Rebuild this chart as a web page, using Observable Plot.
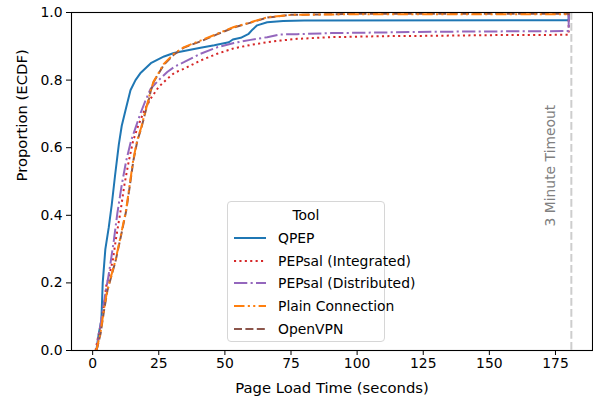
<!DOCTYPE html>
<html><head><meta charset="utf-8">
<script src="https://cdn.jsdelivr.net/npm/d3@7"></script>
<script src="https://cdn.jsdelivr.net/npm/@observablehq/plot@0.6"></script>
<style>
body{margin:0;background:#fff;font-family:"DejaVu Sans",sans-serif;}
#wrap{position:relative;width:593px;height:401px;}
#legend{position:absolute;left:227px;top:201px;width:158px;height:141px;box-sizing:border-box;border:1px solid #d6d6d6;border-radius:4px;background:rgba(255,255,255,0.8);font-size:13.9px;color:#000;}
#legend .title{position:absolute;left:0;width:100%;text-align:center;top:5px;line-height:16px;}
#legend .row{position:absolute;left:5px;height:16px;line-height:16px;white-space:nowrap;}
#legend .row svg{position:absolute;left:0;top:3px;}
#legend .row span{position:absolute;left:45px;top:0;}
</style></head><body><div id="wrap"></div>
<script>
// ---- data ----
const tools = ["QPEP", "PEPsal (Integrated)", "PEPsal (Distributed)", "Plain Connection", "OpenVPN"];
const legendTitle = "Tool";
const xLabel = "Page Load Time (seconds)";
const yLabel = "Proportion (ECDF)";
const timeout = 181;
const timeoutLabel = "3 Minute Timeout";
const xTicks = [0, 25, 50, 75, 100, 125, 150, 175];
const yTicks = [0, 0.2, 0.4, 0.6, 0.8, 1.0];

const qpep = [[1.4,0],[2.3,0.05],[3.3,0.09],[3.8,0.2],[4.8,0.3],[6.1,0.365],[7.2,0.43],[8.5,0.52],[9.9,0.61],[11,0.665],[12.4,0.71],[14.3,0.77],[16.2,0.8],[18,0.82],[20,0.835],[22,0.85],[24.4,0.86],[27,0.87],[30.7,0.88],[35,0.887],[40.8,0.896],[46,0.903],[51.5,0.912],[53,0.92],[56,0.925],[59,0.937],[60.5,0.95],[62.2,0.962],[66,0.971],[72,0.975],[80,0.976],[180,0.977],[180,1]];
const pepsalIntegrated = [[1.1,0],[1.8,0.03],[2.9,0.07],[4.2,0.13],[5.1,0.19],[6.1,0.217],[7.6,0.266],[8.9,0.335],[10.5,0.41],[12,0.49],[13.7,0.562],[15.3,0.62],[17,0.66],[19.5,0.71],[21.9,0.745],[25,0.78],[28.2,0.804],[31,0.822],[34.4,0.833],[40.8,0.858],[47.1,0.878],[53.4,0.894],[59.7,0.904],[66,0.912],[71,0.917],[77.3,0.922],[90,0.927],[110,0.93],[128,0.931],[150,0.933],[180,0.934],[180,1]];
const pepsalDistributed = [[1.5,0],[2.1,0.03],[3.6,0.108],[4.8,0.168],[5.9,0.217],[6.7,0.256],[8,0.325],[9.3,0.404],[11,0.49],[12.7,0.562],[14.5,0.62],[16.3,0.661],[18,0.7],[20,0.74],[21.9,0.774],[25,0.8],[28.2,0.824],[31,0.84],[34.5,0.853],[40.8,0.878],[47.1,0.897],[53.4,0.91],[59.7,0.919],[66,0.927],[71,0.935],[77.3,0.936],[90,0.939],[110,0.941],[128,0.943],[150,0.944],[180,0.945],[180,1]];
const plainConnection = [[1.3,0],[1.7,0.01],[2.9,0.05],[4.2,0.118],[5.5,0.178],[6.7,0.212],[8.6,0.266],[10.5,0.335],[12.6,0.414],[14,0.49],[15.3,0.562],[16.8,0.62],[18.4,0.661],[20,0.71],[21.2,0.745],[21.9,0.769],[23,0.795],[24.4,0.814],[26.9,0.848],[30.7,0.878],[34.4,0.897],[40.8,0.917],[47.1,0.937],[53.4,0.957],[59.7,0.971],[66,0.986],[75,0.993],[100,0.995],[180,0.995],[180,1]];
const openVPN = [[1.3,0],[1.8,0.01],[3,0.05],[4.3,0.118],[5.6,0.178],[6.8,0.212],[8.7,0.266],[10.6,0.335],[12.7,0.414],[14.1,0.49],[15.4,0.562],[16.9,0.62],[18.5,0.661],[20.1,0.71],[21.3,0.745],[22,0.769],[23.1,0.795],[24.5,0.814],[27,0.846],[30.8,0.876],[34.5,0.896],[40.9,0.915],[47.2,0.936],[53.5,0.956],[59.8,0.97],[66.1,0.985],[75,0.993],[100,0.996],[180,0.996],[180,1]];

const series = [qpep, pepsalIntegrated, pepsalDistributed, plainConnection, openVPN];

// ---- styles ----
const colors = ["#1f77b4", "#d62728", "#9467bd", "#ff7f0e", "#8c564b"];
const dashes = ["none", "2.1,3.3", "13.3,3.3,2.1,3.3", "10.5,3.3,2.1,3.3,2.1,3.3", "8,3.4"];
const drawOrder = [0, 1, 2, 4, 3];

const lines = drawOrder.map(i => Plot.line(series[i].map(([t, p]) => ({t, p, tool: tools[i]})), {
  x: "t", y: "p", stroke: colors[i], strokeWidth: 2, strokeDasharray: dashes[i],
  strokeLinecap: "butt", strokeLinejoin: "round"
}));

const chart = Plot.plot({
  width: 593, height: 401,
  marginLeft: 71, marginRight: 1, marginTop: 12, marginBottom: 51,
  style: {fontFamily: "DejaVu Sans", fontSize: "13.9px", color: "black", background: "white", overflow: "visible"},
  x: {domain: [-8, 189]},
  y: {domain: [0, 1]},
  marks: [
    Plot.ruleX([timeout], {stroke: "#cdcdcd", strokeWidth: 2, strokeDasharray: "7.7,3.3"}),
    Plot.text([timeoutLabel], {x: timeout, dx: -21, y: 0.547, text: d => d, rotate: -90, fill: "#808080", fontSize: 13.9}),
    ...lines,
    Plot.frame({stroke: "black", strokeWidth: 1.1}),
    Plot.axisX({ticks: xTicks, tickSize: 5, tickPadding: 3, label: null, fill: "black"}),
    Plot.axisY({ticks: yTicks, tickFormat: d3.format(".1f"), tickSize: 5, tickPadding: 4, label: null, fill: "black"}),
    Plot.text([xLabel], {frameAnchor: "bottom", dy: 38, text: d => d, fontSize: 14.8, fill: "black", lineAnchor: "middle"}),
    Plot.text([yLabel], {frameAnchor: "left", dx: -49, text: d => d, fontSize: 14.8, fill: "black", rotate: -90, lineAnchor: "middle"})
  ]
});
const wrap = document.getElementById("wrap");
wrap.appendChild(chart);

// legend overlay
const lg = document.createElement("div");
lg.id = "legend";
let html = `<div class="title">${legendTitle}</div>`;
const rowTops = [27.7, 50.5, 73.3, 96.1, 118.9];
tools.forEach((name, i) => {
  html += `<div class="row" style="top:${rowTops[i]}px"><svg width="34" height="10"><line x1="1" x2="33" y1="5" y2="5" stroke="${colors[i]}" stroke-width="2" stroke-dasharray="${dashes[i]}"/></svg><span>${name}</span></div>`;
});
lg.innerHTML = html;
wrap.appendChild(lg);
</script>
</body></html>
